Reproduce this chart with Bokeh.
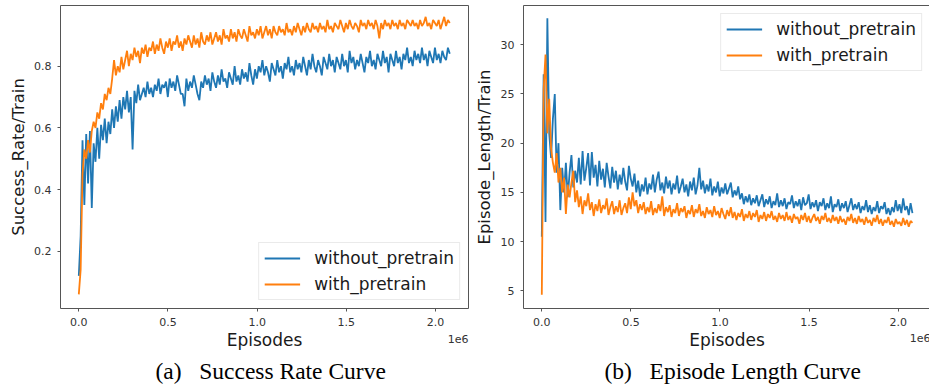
from bokeh.plotting import figure
from bokeh.models import Range1d, FixedTicker, Label, Legend, LegendItem, Title
from bokeh.layouts import row
from bokeh.embed import file_html
from bokeh.resources import INLINE

# logging interval of the training runs (episodes between two logged points)
EPISODE_STEP = 10400

X_TICKS = [0, 500000, 1000000, 1500000, 2000000]
X_TICK_LABELS = ["0.0", "0.5", "1.0", "1.5", "2.0"]
SR_TICKS = [0.2, 0.4, 0.6, 0.8]
SR_TICK_LABELS = ["0.2", "0.4", "0.6", "0.8"]
EL_TICKS = [5, 10, 15, 20, 25, 30]
EL_TICK_LABELS = ["5", "10", "15", "20", "25", "30"]

SERIES_NAMES = ["without_pretrain", "with_pretrain"]

success_without = [
    0.12, 0.25, 0.56, 0.35, 0.58, 0.42, 0.59, 0.34, 0.55, 0.49,
    0.60, 0.50, 0.61, 0.56, 0.63, 0.55, 0.62, 0.58, 0.66, 0.60,
    0.67, 0.62, 0.69, 0.63, 0.70, 0.66, 0.72, 0.65, 0.70, 0.53,
    0.72, 0.68, 0.74, 0.69, 0.71, 0.73, 0.70, 0.75, 0.71, 0.73,
    0.70, 0.74, 0.72, 0.76, 0.71, 0.74, 0.73, 0.75, 0.70, 0.76,
    0.73, 0.75, 0.72, 0.77, 0.74, 0.71, 0.71, 0.67, 0.76, 0.72,
    0.75, 0.73, 0.77, 0.74, 0.71, 0.69, 0.75, 0.73, 0.77, 0.74,
    0.76, 0.72, 0.78, 0.75, 0.73, 0.77, 0.74, 0.79, 0.75, 0.76,
    0.73, 0.78, 0.76, 0.74, 0.80, 0.75, 0.77, 0.74, 0.79, 0.76,
    0.78, 0.75, 0.81, 0.77, 0.74, 0.79, 0.76, 0.80, 0.78, 0.82,
    0.77, 0.80, 0.78, 0.75, 0.81, 0.79, 0.77, 0.82, 0.78, 0.80,
    0.76, 0.81, 0.79, 0.83, 0.78, 0.80, 0.77, 0.82, 0.79, 0.81,
    0.78, 0.83, 0.80, 0.77, 0.82, 0.79, 0.84, 0.80, 0.78, 0.82,
    0.80, 0.77, 0.83, 0.81, 0.79, 0.84, 0.80, 0.82, 0.78, 0.83,
    0.81, 0.79, 0.84, 0.80, 0.82, 0.78, 0.85, 0.81, 0.83, 0.79,
    0.82, 0.80, 0.84, 0.81, 0.78, 0.83, 0.81, 0.85, 0.80, 0.82,
    0.79, 0.84, 0.82, 0.80, 0.85, 0.81, 0.83, 0.78, 0.84, 0.82,
    0.80, 0.85, 0.81, 0.83, 0.79, 0.84, 0.82, 0.86, 0.81, 0.83,
    0.80, 0.85, 0.82, 0.84, 0.81, 0.86, 0.82, 0.84, 0.80, 0.85,
    0.83, 0.81, 0.86, 0.82, 0.84, 0.81, 0.85, 0.83, 0.82, 0.86,
    0.84,
]

success_with = [
    0.06, 0.14, 0.45, 0.53, 0.50, 0.56, 0.52, 0.59, 0.62, 0.60,
    0.65, 0.63, 0.68, 0.66, 0.71, 0.69, 0.73, 0.71, 0.76, 0.82,
    0.77, 0.80, 0.78, 0.83, 0.79, 0.82, 0.85, 0.80, 0.84, 0.82,
    0.86, 0.83, 0.85, 0.81, 0.86, 0.84, 0.87, 0.83, 0.86, 0.85,
    0.88, 0.84, 0.87, 0.85, 0.89, 0.86, 0.84, 0.88, 0.86, 0.89,
    0.85, 0.88, 0.87, 0.90, 0.86, 0.88, 0.85, 0.89, 0.87, 0.90,
    0.88, 0.86, 0.90, 0.87, 0.89, 0.86, 0.91, 0.88, 0.87, 0.90,
    0.88, 0.91, 0.87, 0.89, 0.91, 0.88, 0.90, 0.87, 0.92, 0.89,
    0.90, 0.88, 0.92, 0.89, 0.91, 0.88, 0.92, 0.90, 0.89, 0.92,
    0.90, 0.88, 0.93, 0.90, 0.91, 0.89, 0.92, 0.90, 0.93, 0.89,
    0.91, 0.93, 0.90, 0.92, 0.89, 0.93, 0.91, 0.90, 0.93, 0.91,
    0.92, 0.90, 0.94, 0.91, 0.92, 0.90, 0.93, 0.91, 0.94, 0.92,
    0.90, 0.93, 0.91, 0.94, 0.92, 0.91, 0.94, 0.92, 0.93, 0.91,
    0.94, 0.92, 0.93, 0.91, 0.95, 0.92, 0.93, 0.91, 0.94, 0.93,
    0.92, 0.95, 0.93, 0.91, 0.94, 0.92, 0.95, 0.93, 0.92, 0.94,
    0.93, 0.91, 0.95, 0.93, 0.94, 0.92, 0.95, 0.93, 0.94, 0.92,
    0.95, 0.93, 0.89, 0.94, 0.92, 0.95, 0.93, 0.94, 0.92, 0.95,
    0.93, 0.94, 0.92, 0.95, 0.93, 0.94, 0.92, 0.95, 0.94, 0.93,
    0.95, 0.93, 0.94, 0.92, 0.95, 0.93, 0.94, 0.96, 0.93, 0.94,
    0.92, 0.95, 0.94, 0.93, 0.95, 0.92, 0.94, 0.96, 0.93, 0.95,
    0.94,
]

length_without = [
    10.5, 27.0, 12.0, 32.7, 21.0, 18.5, 22.5, 25.0, 17.0, 20.0,
    13.2, 17.5, 15.0, 18.0, 14.5, 17.0, 18.8, 15.5, 17.2, 16.0,
    18.5, 15.8, 19.2, 16.2, 17.5, 19.0, 15.7, 19.1, 16.5, 17.8,
    15.6, 18.2, 16.3, 17.4, 15.5, 18.0, 16.6, 15.4, 17.6, 16.0,
    17.2, 15.3, 16.8, 15.8, 17.5, 16.1, 15.2, 17.7, 16.4, 15.6,
    16.9, 15.0, 16.2, 14.6, 15.8, 15.1, 16.5, 14.8, 15.9, 15.3,
    16.8, 15.0, 16.3, 17.1, 15.2, 16.0, 14.9, 16.6, 15.4, 16.2,
    14.8, 15.9, 15.3, 16.7, 14.9, 15.6, 16.4, 15.0, 15.8, 14.6,
    16.1, 15.2, 16.5, 14.8, 15.7, 17.5, 15.3, 16.2, 14.9, 15.8,
    15.1, 16.4, 14.7, 15.6, 15.0, 16.1, 14.6, 15.5, 14.9, 15.9,
    14.8, 15.4, 16.0, 14.5, 15.2, 14.7, 15.6, 14.3, 14.9, 13.8,
    14.6, 14.0, 14.8, 13.7, 14.4, 13.9, 14.7, 13.6, 14.2, 14.8,
    13.5, 14.3, 13.8, 14.6, 13.4, 14.1, 13.7, 14.9, 13.5, 14.2,
    13.6, 14.4, 13.3, 14.0, 13.8, 14.7, 13.4, 14.1, 13.6, 14.3,
    13.2, 14.5, 13.7, 13.9, 14.8, 13.3, 14.0, 13.5, 14.2, 13.1,
    14.0, 13.6, 14.4, 13.2, 13.9, 13.4, 14.6, 13.0, 13.8, 13.5,
    14.3, 13.1, 13.9, 13.4, 14.1, 13.0, 13.7, 14.4, 13.2, 13.8,
    13.3, 14.0, 12.9, 13.6, 13.2, 14.2, 13.0, 13.7, 12.8, 13.5,
    13.1, 14.1, 12.9, 13.6, 13.3, 14.0, 12.8, 13.4, 12.7, 13.5,
    13.0, 14.2, 13.1, 13.8, 12.9, 14.4, 13.2, 13.6, 12.7, 13.9,
    12.9,
]

length_with = [
    4.6, 25.5, 29.0, 21.0, 24.5, 19.5, 18.0, 17.0, 19.0, 16.0,
    17.5, 15.0, 16.5, 12.8, 15.8, 14.5, 16.0, 17.2, 14.0, 15.2,
    13.5, 14.6, 12.8, 14.2, 13.6, 14.9, 13.2, 14.0, 12.6, 13.8,
    13.1, 14.3, 12.9, 13.7, 13.3, 14.4, 12.7, 13.5, 14.1, 12.8,
    13.6, 13.0, 14.2, 12.7, 13.4, 13.9, 12.9, 14.5, 13.3, 15.0,
    13.6, 14.2, 12.9, 13.8, 13.2, 14.0, 12.8, 13.5, 13.0, 14.1,
    12.7, 13.4, 12.9, 13.8, 13.1, 14.6, 12.6, 13.5, 13.0, 13.7,
    12.5, 13.3, 12.9, 13.9, 12.6, 13.4, 13.0, 13.6, 12.4, 13.2,
    12.8, 13.7, 12.5, 13.3, 12.9, 13.8, 12.6, 13.1, 12.4, 13.5,
    12.8, 13.2, 12.5, 13.6, 12.7, 13.1, 12.4, 13.4, 12.8, 12.3,
    13.2, 12.6, 13.5, 12.4, 13.0, 12.2, 12.9, 12.5, 13.3, 12.1,
    12.8, 12.4, 13.1, 12.2, 12.9, 12.5, 13.2, 12.0, 12.7, 12.3,
    13.0, 12.1, 12.8, 12.4, 13.1, 12.2, 12.6, 12.0, 12.9, 12.3,
    12.7, 12.1, 13.0, 12.2, 12.6, 11.9, 12.8, 12.3, 12.5, 11.8,
    12.7, 12.2, 12.9, 12.0, 12.6, 11.9, 12.4, 12.8, 12.1, 12.5,
    11.8, 12.6, 12.2, 12.9, 12.0, 12.4, 11.9, 12.7, 12.1, 12.5,
    11.8, 12.6, 12.0, 12.3, 11.7, 12.5, 12.1, 12.8, 11.9, 12.4,
    11.8, 12.6, 12.0, 12.3, 11.7, 12.5, 11.9, 12.2, 11.6, 12.4,
    12.0, 12.7, 11.8, 12.3, 11.6, 12.2, 11.9, 12.5, 11.7, 12.1,
    11.5, 12.3, 11.8, 12.0, 11.6, 12.4, 11.7, 12.2, 11.5, 12.1,
    11.9,
]

CAPTIONS = ["(a)\u2002 Success Rate Curve", "(b)\u2002 Episode Length Curve"]
Y_LABELS = ["Success_Rate/Train", "Episode_Length/Train"]

BLUE = "#1f77b4"
ORANGE = "#ff7f0e"
SPINE = "#555555"
FONT = "DejaVu Sans"


def episodes_for(series):
    return [i * EPISODE_STEP for i in range(len(series))]


def make_panel(series_a, series_b, y_range, y_ticks, y_tick_labels, y_label,
               x_range, frame_w, borders, legend_loc, y_label_standoff,
               caption, caption_offset, exp_y):
    left, right = borders
    p = figure(frame_width=frame_w, frame_height=303,
               x_range=Range1d(*x_range), y_range=Range1d(*y_range),
               output_backend="svg", toolbar_location=None,
               min_border_left=left, min_border_right=right,
               min_border_top=5, min_border_bottom=78,
               background_fill_color="white", border_fill_color="white")
    p.grid.visible = False
    p.outline_line_color = SPINE
    p.outline_line_width = 1

    r1 = p.line(episodes_for(series_a), series_a, line_color=BLUE, line_width=1.8)
    r2 = p.line(episodes_for(series_b), series_b, line_color=ORANGE, line_width=1.8)

    for ax in (p.xaxis[0], p.yaxis[0]):
        ax.axis_line_color = None
        ax.major_tick_line_color = SPINE
        ax.major_tick_out = 3
        ax.major_tick_in = 0
        ax.minor_tick_line_color = None
        ax.major_label_text_font = FONT
        ax.major_label_text_font_size = "11px"
        ax.major_label_text_color = "#333333"
        ax.major_label_standoff = 6
        ax.axis_label_text_font = FONT
        ax.axis_label_text_font_style = "normal"
        ax.axis_label_text_color = "#1a1a1a"

    p.xaxis.ticker = FixedTicker(ticks=X_TICKS)
    p.xaxis.major_label_overrides = dict(zip(X_TICKS, X_TICK_LABELS))
    p.xaxis.axis_label = "Episodes"
    p.xaxis.axis_label_text_font_size = "17px"
    p.xaxis.axis_label_standoff = 1

    p.yaxis.ticker = FixedTicker(ticks=y_ticks)
    p.yaxis.major_label_overrides = dict(zip(y_ticks, y_tick_labels))
    p.yaxis.axis_label = y_label
    p.yaxis.axis_label_text_font_size = "16.5px"
    p.yaxis.axis_label_standoff = y_label_standoff

    legend = Legend(items=[LegendItem(label=SERIES_NAMES[0], renderers=[r1]),
                           LegendItem(label=SERIES_NAMES[1], renderers=[r2])],
                    location=legend_loc, margin=8,
                    label_text_font=FONT, label_text_font_size="17px",
                    label_text_color="#1a1a1a",
                    glyph_width=36, glyph_height=20, label_height=20,
                    label_standoff=14, spacing=6, padding=5,
                    border_line_color="#d5d5d5", border_line_width=1,
                    background_fill_alpha=0.8)
    p.add_layout(legend, "center")

    # sub-figure caption, under the axis
    p.add_layout(Title(text=caption, align="left", offset=caption_offset,
                       standoff=7, text_font="Liberation Serif",
                       text_font_size="23.5px", text_font_style="normal",
                       text_color="black"), "below")
    # exponent marker of the x axis, right aligned on the frame edge
    p.add_layout(Label(x=x_range[1], y=exp_y, text="1e6",
                       text_align="right", text_baseline="alphabetic",
                       text_font=FONT, text_font_size="11px",
                       text_color="#333333"), "below")
    return p


p1 = make_panel(success_without, success_with,
                y_range=(0.0143, 0.9968), y_ticks=SR_TICKS,
                y_tick_labels=SR_TICK_LABELS, y_label=Y_LABELS[0],
                x_range=(-102600, 2185000), frame_w=408, borders=(60, 3),
                legend_loc="bottom_right", y_label_standoff=3,
                caption=CAPTIONS[0], caption_offset=95,
                exp_y=0.2 - (338 - 250.7) / 308.5)

p2 = make_panel(length_without, length_with,
                y_range=(3.2, 33.99), y_ticks=EL_TICKS,
                y_tick_labels=EL_TICK_LABELS, y_label=Y_LABELS[1],
                x_range=(-102700, 2181300), frame_w=407, borders=(50, 1),
                legend_loc="top_right", y_label_standoff=4,
                caption=CAPTIONS[1], caption_offset=81,
                exp_y=5 - (338 - 290.3) / 9.84)

layout = row(p1, p2)
open("out.html", "w").write(file_html(layout, INLINE))
